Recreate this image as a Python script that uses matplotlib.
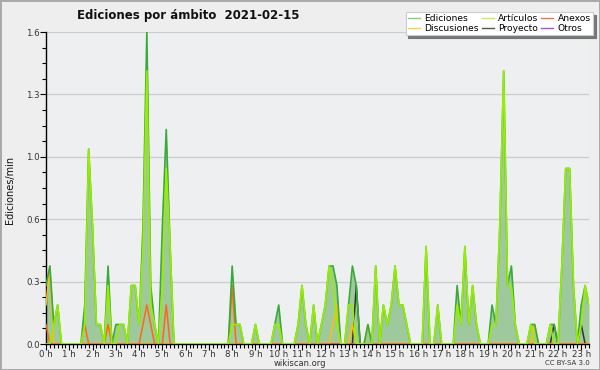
import numpy as np
import matplotlib
matplotlib.use("Agg")
import matplotlib.pyplot as plt
from matplotlib.ticker import FixedLocator, MultipleLocator, FuncFormatter

# 10-minute samples, edits per minute, one row per hour
ediciones = [
    0.3, 0.4, 0.1, 0.2, 0.0, 0.0,
    0.0, 0.0, 0.0, 0.0, 0.2, 1.0,
    0.6, 0.1, 0.1, 0.0, 0.4, 0.0,
    0.1, 0.1, 0.1, 0.0, 0.3, 0.3,
    0.1, 0.6, 1.6, 0.3, 0.1, 0.0,
    0.6, 1.1, 0.5, 0.0, 0.0, 0.0,
    0.0, 0.0, 0.0, 0.0, 0.0, 0.0,
    0.0, 0.0, 0.0, 0.0, 0.0, 0.0,
    0.4, 0.1, 0.1, 0.0, 0.0, 0.0,
    0.1, 0.0, 0.0, 0.0, 0.0, 0.1,
    0.2, 0.0, 0.0, 0.0, 0.0, 0.1,
    0.3, 0.1, 0.0, 0.2, 0.0, 0.1,
    0.2, 0.4, 0.4, 0.3, 0.0, 0.0,
    0.2, 0.4, 0.3, 0.0, 0.0, 0.1,
    0.0, 0.4, 0.0, 0.2, 0.1, 0.2,
    0.4, 0.2, 0.2, 0.1, 0.0, 0.0,
    0.0, 0.0, 0.5, 0.0, 0.0, 0.2,
    0.0, 0.0, 0.0, 0.0, 0.3, 0.1,
    0.5, 0.1, 0.3, 0.1, 0.0, 0.0,
    0.0, 0.2, 0.1, 0.6, 1.4, 0.3,
    0.4, 0.1, 0.0, 0.0, 0.0, 0.1,
    0.1, 0.0, 0.0, 0.0, 0.1, 0.1,
    0.0, 0.4, 0.9, 0.9, 0.3, 0.0,
    0.2, 0.3, 0.2,
]
articulos = [
    0.0, 0.0, 0.1, 0.2, 0.0, 0.0,
    0.0, 0.0, 0.0, 0.0, 0.1, 1.0,
    0.6, 0.1, 0.1, 0.0, 0.3, 0.0,
    0.0, 0.1, 0.1, 0.0, 0.3, 0.3,
    0.1, 0.5, 1.4, 0.2, 0.1, 0.0,
    0.3, 0.9, 0.5, 0.0, 0.0, 0.0,
    0.0, 0.0, 0.0, 0.0, 0.0, 0.0,
    0.0, 0.0, 0.0, 0.0, 0.0, 0.0,
    0.1, 0.1, 0.1, 0.0, 0.0, 0.0,
    0.1, 0.0, 0.0, 0.0, 0.0, 0.1,
    0.1, 0.0, 0.0, 0.0, 0.0, 0.1,
    0.3, 0.1, 0.0, 0.2, 0.0, 0.1,
    0.2, 0.4, 0.3, 0.1, 0.0, 0.0,
    0.2, 0.2, 0.0, 0.0, 0.0, 0.0,
    0.0, 0.4, 0.0, 0.2, 0.1, 0.2,
    0.4, 0.2, 0.2, 0.1, 0.0, 0.0,
    0.0, 0.0, 0.5, 0.0, 0.0, 0.2,
    0.0, 0.0, 0.0, 0.0, 0.2, 0.1,
    0.5, 0.1, 0.3, 0.1, 0.0, 0.0,
    0.0, 0.1, 0.1, 0.6, 1.4, 0.3,
    0.3, 0.1, 0.0, 0.0, 0.0, 0.1,
    0.0, 0.0, 0.0, 0.0, 0.1, 0.0,
    0.0, 0.4, 0.9, 0.9, 0.3, 0.0,
    0.1, 0.3, 0.2,
]
# sparse series: {sample index: value}
anexos_pts = {0: 0.1, 10: 0.1, 16: 0.1, 25: 0.1, 26: 0.2, 27: 0.1, 31: 0.2, 48: 0.3}
discusiones_pts = {0: 0.2, 1: 0.4, 74: 0.1, 75: 0.2, 79: 0.1, 83: 0.1, 126: 0.1}
proyecto_pts = {80: 0.3, 131: 0.1, 138: 0.1}
otros_pts = {}

hour_labels = ["%d h" % h for h in range(24)]

n = len(ediciones)
x = np.arange(n)

def dense(pts):
    arr = np.zeros(n)
    for k, v in pts.items():
        arr[k] = v
    return arr

anexos = dense(anexos_pts)
discusiones = dense(discusiones_pts)
proyecto = dense(proyecto_pts)
otros = dense(otros_pts)

fig = plt.figure(figsize=(6, 3.7), dpi=100)
fig.patch.set_facecolor("#eeeeee")
fig.patch.set_edgecolor("#aaaaaa")
fig.patch.set_linewidth(2)

ax = fig.add_axes([46/600, 26/370, 543/600, 312/370])
ax.set_facecolor("#eeeff1")

ax.fill_between(x, ediciones, color="#9dc99d", lw=0, zorder=1)
ax.plot(x, otros, color="#9944ee", lw=1.1, zorder=2)
ax.plot(x, proyecto, color="#333333", lw=1.1, zorder=3)
ax.plot(x, discusiones, color="#ffc000", lw=1.1, zorder=3)
ax.plot(x, anexos, color="#ff6a10", lw=1.1, zorder=4)
ax.plot(x, ediciones, color="#3aaa3a", lw=1.2, zorder=5)
ax.plot(x, articulos, color="#99ee00", lw=1.2, zorder=6)

ax.set_xlim(0, n - 1)
ax.set_ylim(0, 1.6)

yt = np.arange(6) * 0.32
ax.yaxis.set_major_locator(FixedLocator(yt))
ax.yaxis.set_minor_locator(FixedLocator(np.arange(21) * 0.08))
ax.yaxis.set_major_formatter(FuncFormatter(lambda v, p: "%.1f" % v))
ax.xaxis.set_major_locator(FixedLocator(np.arange(0, n, 6)))
ax.xaxis.set_minor_locator(MultipleLocator(1))
ax.set_xticklabels(hour_labels[:len(np.arange(0, n, 6))])

ax.tick_params(axis="both", which="both", direction="out", color="black",
               labelsize=6.2, labelcolor="#333333", width=0.8)
ax.tick_params(axis="both", which="major", length=4, pad=0.5)
ax.tick_params(axis="both", which="minor", length=3)
ax.grid(True, axis="y", which="major", color="#cccccc", lw=0.9)
ax.set_axisbelow(True)
for s in ["top", "right"]:
    ax.spines[s].set_visible(False)
for s in ["left", "bottom"]:
    ax.spines[s].set_linewidth(1)

fig.text(188/600, 1 - 15/370, "Ediciones por ámbito  2021-02-15",
         ha="center", va="center", fontsize=8.5, fontweight="bold", color="#111111")
fig.text(10/600, 1 - 190/370, "Ediciones/min", rotation=90,
         ha="center", va="center", fontsize=7, color="#111111")
fig.text(300/600, 1 - 363/370, "wikiscan.org", ha="center", va="center",
         fontsize=6, color="#333333")
fig.text(590/600, 1 - 363/370, "CC BY-SA 3.0", ha="right", va="center",
         fontsize=5, color="#333333")

labels = ["Ediciones", "Discusiones", "Artículos", "Proyecto", "Anexos", "Otros"]
colors = ["#88cc88", "#ffcc44", "#ccee55", "#555555", "#ee7755", "#9955ee"]
handles = [plt.Line2D([], [], color=c, lw=1) for c in colors]
leg = fig.legend(handles, labels, ncol=3, loc="upper right",
                 bbox_to_anchor=(593/600, 1 - 12/370), fontsize=6.6,
                 frameon=True, fancybox=False, shadow={"color": "#777777", "alpha": 1},
                 handlelength=1.3, handletextpad=0.5, columnspacing=0.3,
                 labelspacing=0.05, borderpad=0.25, borderaxespad=0)
leg.get_frame().set_edgecolor("#cccccc")
leg.get_frame().set_linewidth(0.8)

fig.savefig("out.png", dpi=100, facecolor=fig.get_facecolor(),
            edgecolor=fig.get_edgecolor())
